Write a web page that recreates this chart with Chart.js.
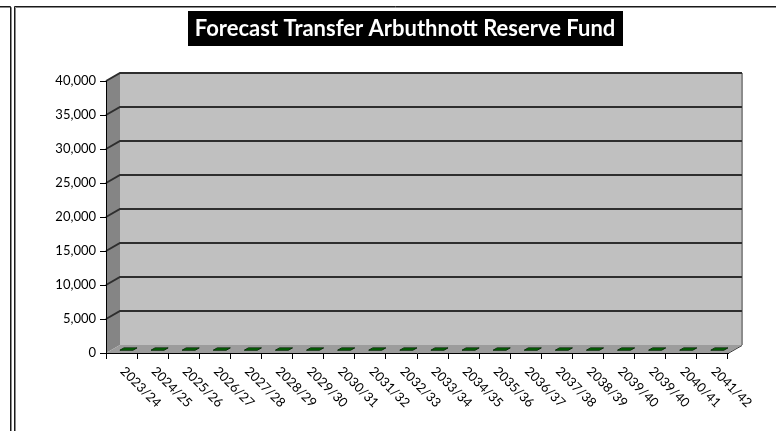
<!DOCTYPE html>
<html>
<head>
<meta charset="utf-8">
<title>Forecast Transfer Arbuthnott Reserve Fund</title>
<script src="https://cdn.jsdelivr.net/npm/chart.js@4/dist/chart.umd.min.js"></script>
<style>
  html, body { margin: 0; padding: 0; background: #ffffff; }
  #wrap { width: 776px; height: 431px; position: relative; }
</style>
</head>
<body>
<div id="wrap"><canvas id="chart" width="776" height="431"></canvas></div>
<script>
// Financial years shown along the floor of the chart
const YEARS = [
  '2023/24', '2024/25', '2025/26', '2026/27', '2027/28', '2028/29', '2029/30',
  '2030/31', '2031/32', '2032/33', '2033/34', '2034/35', '2035/36', '2036/37',
  '2037/38', '2038/39', '2039/40', '2039/40', '2040/41', '2041/42'
];
// Forecast transfer per year
const TRANSFERS = [0, 0, 0, 0, 0, 0, 0, 0, 0, 0, 0, 0, 0, 0, 0, 0, 0, 0, 0, 0];
// Value axis
const Y_MIN = 0;
const Y_MAX = 40000;
const Y_STEP = 5000;
const TITLE = 'Forecast Transfer Arbuthnott Reserve Fund';

// Depth of the 3D box (back wall is shifted right and up by this much)
const DEPTH_X = 14;
const DEPTH_Y = 8;
const FONT = 'Lato, "Open Sans", "DejaVu Sans", sans-serif';

function poly(ctx, pts, fill, stroke, lw) {
  ctx.beginPath();
  ctx.moveTo(pts[0][0], pts[0][1]);
  for (let i = 1; i < pts.length; i++) ctx.lineTo(pts[i][0], pts[i][1]);
  ctx.closePath();
  if (fill) { ctx.fillStyle = fill; ctx.fill(); }
  if (stroke) { ctx.strokeStyle = stroke; ctx.lineWidth = lw || 1; ctx.stroke(); }
}

// Outer frames, title box, walls, floor and 3D gridlines
const boxPlugin = {
  id: 'box3d',
  beforeDraw(chart) {
    const ctx = chart.ctx;
    const a = chart.chartArea;
    const ys = chart.scales.y;
    ctx.save();

    // frame lines
    ctx.lineWidth = 1;
    ctx.strokeStyle = '#8a8a8a';
    ctx.beginPath();
    ctx.moveTo(0, 7.5); ctx.lineTo(11.5, 7.5); ctx.lineTo(11.5, 431);
    ctx.moveTo(15.5, 431); ctx.lineTo(15.5, 7.5); ctx.lineTo(776, 7.5);
    ctx.stroke();
    ctx.strokeStyle = '#1a1a1a';
    ctx.beginPath();
    ctx.moveTo(0, 6.5); ctx.lineTo(10.5, 6.5); ctx.lineTo(10.5, 431);
    ctx.moveTo(14.5, 431); ctx.lineTo(14.5, 6.5); ctx.lineTo(776, 6.5);
    ctx.stroke();

    // title
    ctx.font = 'bold 22px ' + FONT;
    const tw = ctx.measureText(TITLE).width;
    const cx = 405;
    ctx.fillStyle = '#000000';
    ctx.fillRect(Math.round(cx - tw / 2 - 7), 11, Math.round(tw + 14), 35);
    ctx.fillStyle = '#ffffff';
    ctx.textAlign = 'center';
    ctx.textBaseline = 'middle';
    ctx.fillText(TITLE, cx, 29);

    const L = a.left, R = a.right, T = a.top, B = a.bottom;
    // back wall
    poly(ctx, [[L + DEPTH_X, T - DEPTH_Y], [R + DEPTH_X, T - DEPTH_Y], [R + DEPTH_X, B - DEPTH_Y], [L + DEPTH_X, B - DEPTH_Y]], '#c0c0c0');
    // left side wall
    poly(ctx, [[L, T], [L + DEPTH_X, T - DEPTH_Y], [L + DEPTH_X, B - DEPTH_Y], [L, B]], '#858585');
    // floor
    poly(ctx, [[L, B], [R, B], [R + DEPTH_X, B - DEPTH_Y], [L + DEPTH_X, B - DEPTH_Y]], '#9c9c9c');
    // floor right edge
    ctx.strokeStyle = '#3a3a3a';
    ctx.lineWidth = 1;
    ctx.beginPath();
    ctx.moveTo(R, B + 0.5); ctx.lineTo(R + DEPTH_X, B - DEPTH_Y + 0.5);
    ctx.stroke();
    // right edge of the back wall
    ctx.strokeStyle = '#8c8c8c';
    ctx.lineWidth = 2;
    ctx.beginPath();
    ctx.moveTo(R + DEPTH_X, T - DEPTH_Y); ctx.lineTo(R + DEPTH_X, B - DEPTH_Y);
    ctx.stroke();

    // gridlines: diagonal across the side wall, then along the back wall
    ctx.strokeStyle = '#2e2e2e';
    ctx.lineWidth = 2;
    for (let v = Y_MIN + Y_STEP; v <= Y_MAX; v += Y_STEP) {
      const y = Math.round(ys.getPixelForValue(v));
      ctx.beginPath();
      ctx.moveTo(L, y);
      ctx.lineTo(L + DEPTH_X, y - DEPTH_Y);
      ctx.lineTo(R + DEPTH_X, y - DEPTH_Y);
      ctx.stroke();
    }
    ctx.restore();
  }
};

// 3D columns drawn from the bar elements' own geometry
const columnPlugin = {
  id: 'columns3d',
  afterDatasetsDraw(chart) {
    const ctx = chart.ctx;
    const d0 = 0.35, d1 = 0.64;
    const ox0 = DEPTH_X * d0, oy0 = DEPTH_Y * d0;
    const ox1 = DEPTH_X * d1, oy1 = DEPTH_Y * d1;
    ctx.save();
    chart.getDatasetMeta(0).data.forEach(bar => {
      const p = bar.getProps(['x', 'y', 'base', 'width'], true);
      const xl = p.x - p.width / 2, xr = p.x + p.width / 2;
      const top = Math.min(p.y, p.base), base = Math.max(p.y, p.base);
      if (base - top > 0.5) {
        // front face
        poly(ctx, [[xl + ox0, top - oy0], [xr + ox0, top - oy0], [xr + ox0, base - oy0], [xl + ox0, base - oy0]], '#006a00', '#002800', 1);
        // right face
        poly(ctx, [[xr + ox0, top - oy0], [xr + ox1, top - oy1], [xr + ox1, base - oy1], [xr + ox0, base - oy0]], '#004800', '#002800', 1);
      }
      // top face
      poly(ctx, [[xl + ox0, top - oy0], [xr + ox0, top - oy0], [xr + ox1, top - oy1], [xl + ox1, top - oy1]], '#007000', '#0b2b0b', 1);
    });
    ctx.restore();
  },
  // slanted category labels running down to the right
  afterDraw(chart) {
    const ctx = chart.ctx;
    const xs = chart.scales.x;
    const B = chart.chartArea.bottom;
    ctx.save();
    ctx.font = '13px ' + FONT;
    ctx.fillStyle = '#000000';
    ctx.textAlign = 'left';
    ctx.textBaseline = 'middle';
    YEARS.forEach((label, i) => {
      const x = xs.getPixelForTick(i);
      ctx.save();
      ctx.translate(x + 1, B + 16);
      ctx.rotate(Math.PI / 4);
      ctx.fillText(label, 0, 0);
      ctx.restore();
    });
    ctx.restore();
  }
};

new Chart(document.getElementById('chart'), {
  type: 'bar',
  data: {
    labels: YEARS,
    datasets: [{
      label: 'Transfer',
      data: TRANSFERS,
      backgroundColor: 'rgba(0,0,0,0)',
      borderWidth: 0,
      categoryPercentage: 1,
      barPercentage: 0.42
    }]
  },
  options: {
    responsive: false,
    animation: false,
    layout: { padding: { left: 0, right: 48, top: 81, bottom: 0 } },
    plugins: {
      legend: { display: false },
      title: { display: false },
      tooltip: { enabled: false }
    },
    scales: {
      x: {
        grid: { display: true, drawOnChartArea: false, drawTicks: true, tickLength: 6, color: '#000000', offset: true },
        border: { display: true, color: '#000000', width: 1 },
        ticks: { display: false },
        afterFit(scale) { scale.height = 78; }
      },
      y: {
        min: Y_MIN,
        max: Y_MAX,
        grid: { display: true, drawOnChartArea: false, drawTicks: true, tickLength: 6, color: '#000000' },
        border: { display: true, color: '#000000', width: 1 },
        ticks: {
          stepSize: Y_STEP,
          padding: 4,
          color: '#000000',
          font: { family: FONT, size: 13 },
          callback: v => v.toLocaleString('en-US')
        },
        afterFit(scale) { scale.width = 106; }
      }
    }
  },
  plugins: [boxPlugin, columnPlugin]
});
</script>
</body>
</html>
